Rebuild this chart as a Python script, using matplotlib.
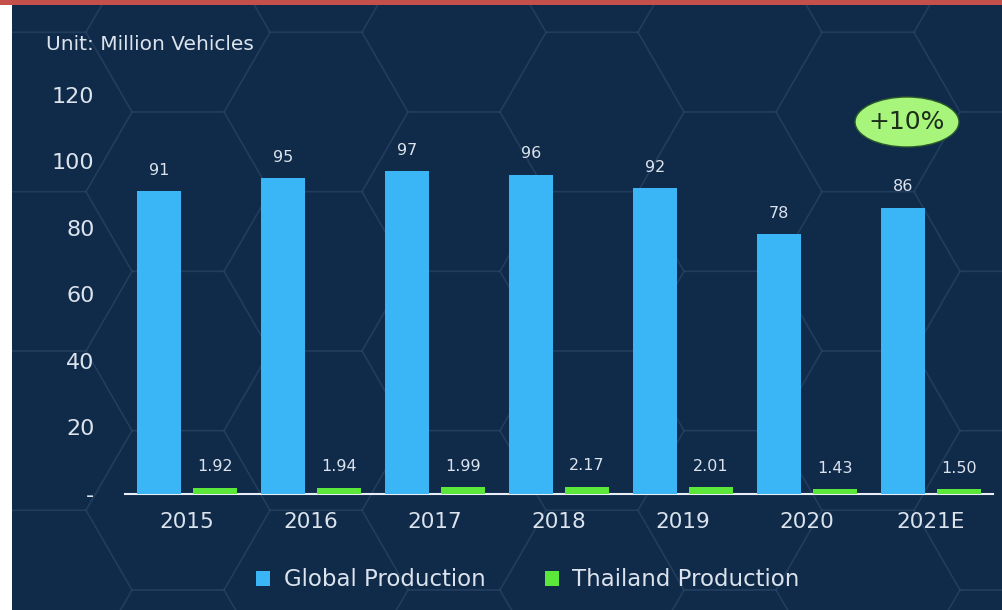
import numpy as np
import matplotlib.pyplot as plt
from matplotlib.patches import Ellipse, Rectangle, RegularPolygon

# Data
years = ['2015', '2016', '2017', '2018', '2019', '2020', '2021E']
global_prod = [91, 95, 97, 96, 92, 78, 86]
thai_prod = [1.92, 1.94, 1.99, 2.17, 2.01, 1.43, 1.50]
y_ticks = [0, 20, 40, 60, 80, 100, 120]
y_tick_labels = ['-', '20', '40', '60', '80', '100', '120']

bg = '#102a4a'
blue = '#3ab5f5'
green = '#5be83a'
txt = '#dbe3ec'

plt.rcParams['font.family'] = ['DejaVu Sans']

fig = plt.figure(figsize=(10.02, 6.1), dpi=100)
fig.patch.set_facecolor('white')

# background panel, red top strip
fig.patches.append(Rectangle((12 / 1002, 0), 1, 1, transform=fig.transFigure,
                             facecolor=bg, edgecolor='none', zorder=0))
fig.patches.append(Rectangle((0, 1 - 5 / 610), 1, 5 / 610, transform=fig.transFigure,
                             facecolor='#c4504c', edgecolor='none', zorder=1))

# faint hexagon decoration
deco = fig.add_axes([12 / 1002, 0, 1 - 12 / 1002, 1 - 5 / 610], zorder=0.5)
deco.set_xlim(12, 1002)
deco.set_ylim(0, 605)
deco.axis('off')
r = 92
for col in range(-1, 9):
    for row in range(-1, 5):
        cx = col * 1.5 * r + 40
        cy = row * np.sqrt(3) * r + (np.sqrt(3) / 2 * r if col % 2 else 0) + 20
        deco.add_patch(RegularPolygon((cx, cy), 6, radius=r, orientation=np.pi / 6,
                                      facecolor='none', edgecolor='#6f8fb3',
                                      alpha=0.1, lw=1.2))

# main chart
ax = fig.add_axes([125 / 1002, 116 / 610, 868 / 1002, 416 / 610], zorder=2)
ax.patch.set_alpha(0)
x = np.arange(len(years))
w = 0.355
off = 0.225
b1 = ax.bar(x - off, global_prod, width=w, color=blue, zorder=3)
b2 = ax.bar(x + off, thai_prod, width=w, color=green, zorder=3)

for xi, v in zip(x, global_prod):
    ax.text(xi - off, v + 4, f'{v}', ha='center', va='bottom', color=txt, fontsize=11.5)
for xi, v in zip(x, thai_prod):
    ax.text(xi + off, v + 4, f'{v:.2f}', ha='center', va='bottom', color=txt, fontsize=11.5)

ax.set_xlim(-0.5, len(years) - 0.5)
ax.set_ylim(0, 125)
ax.set_xticks(x)
ax.set_xticklabels(years, fontsize=15.5, color=txt)
ax.set_yticks(y_ticks)
ax.set_yticklabels(y_tick_labels, fontsize=16, color=txt)
ax.tick_params(axis='both', length=0)
ax.tick_params(axis='x', pad=13)
ax.tick_params(axis='y', pad=22)
for s in ['top', 'right', 'left']:
    ax.spines[s].set_visible(False)
ax.spines['bottom'].set_color('#e8eef5')
ax.spines['bottom'].set_linewidth(1.5)

# growth badge
badge = Ellipse((907 / 1002, 1 - 122 / 610), 104 / 1002, 50 / 610, transform=fig.transFigure,
                facecolor='#a8f57c', edgecolor='#2a5a2a', lw=1, zorder=5)
fig.patches.append(badge)
fig.text(907 / 1002, 1 - 122 / 610, '+10%', ha='center', va='center', fontsize=18,
         color='#1c2e1c', zorder=6)

fig.text(46 / 1002, 1 - 45 / 610, 'Unit: Million Vehicles', ha='left', va='center',
         fontsize=14.5, color=txt)

leg = fig.legend([b1, b2], ['Global Production', 'Thailand Production'], loc='center',
                 bbox_to_anchor=(528 / 1002, 1 - 580 / 610), ncol=2, frameon=False,
                 fontsize=16.5, handlelength=0.6, handleheight=0.6, columnspacing=2.6,
                 handletextpad=0.6)
for t in leg.get_texts():
    t.set_color(txt)

fig.savefig('out.png', dpi=100, facecolor=fig.get_facecolor())
